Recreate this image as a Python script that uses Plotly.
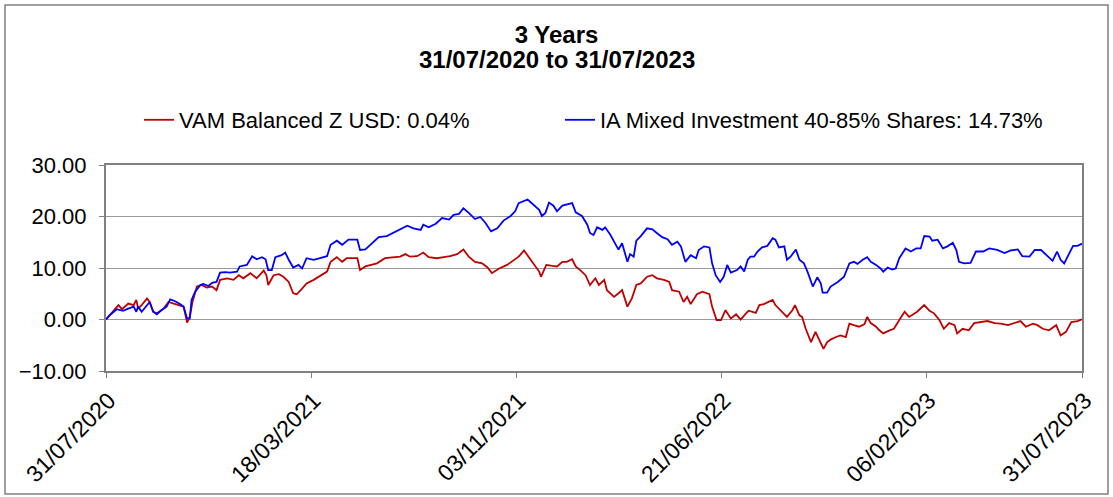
import pandas as pd
import plotly.graph_objects as go

start_date = "2020-07-31"
end_date = "2023-07-31"

title_lines = ["3 Years", "31/07/2020 to 31/07/2023"]
series_names = ["VAM Balanced Z USD: 0.04%", "IA Mixed Investment 40-85% Shares: 14.73%"]

# days since 31/07/2020 and cumulative % growth
red_days = [0, 4, 10, 14, 18, 25, 31, 34, 36, 40, 46, 49, 53, 57, 64, 70, 76, 83, 87, 91, 94, 97, 102, 107, 113, 119, 124, 128, 136, 143, 149, 154, 162, 169, 177, 180, 182,
            188, 194, 199, 205, 210, 214, 220, 225, 233, 240, 248, 252, 259, 265, 270, 282, 285, 291, 297, 304, 313, 323, 330, 336, 341, 349, 356, 362,
            371, 379, 386, 394, 401, 407, 414, 422, 428, 433, 441, 450, 458, 463, 469, 474, 480, 486, 488, 494, 501, 506, 512, 517, 523, 527, 532, 538, 543,
            549, 553, 559, 562, 570, 575, 579, 585, 590, 595, 600, 607, 613, 618, 626, 632, 635, 643, 648, 652, 656, 663, 669, 677, 680, 685, 690, 695, 701, 707, 712, 718, 721,
            729, 733, 738, 744, 748, 751, 757, 764, 770, 773, 778, 781, 785, 791, 796, 800, 805, 809, 813, 819, 824, 830, 834, 839, 845, 851, 854, 858, 864, 867, 872, 879, 884, 890, 896, 901,
            910, 918, 924, 929, 935, 940, 946, 952, 955, 961, 968, 974, 982, 989, 997, 1004, 1012, 1019, 1026, 1032, 1040, 1045, 1051, 1058, 1066, 1071, 1077, 1083, 1090, 1095]
red_vals = [0, 0.8, 1.8, 2.8, 2.0, 3.1, 2.8, 3.8, 2.1, 2.8, 4.1, 3.4, 1.5, 1.2, 2.0, 3.4, 3.1, 2.8, 2.5, -0.6, 0.5, 3.4, 6.4, 6.7, 6.2, 6.4, 5.7, 7.7, 8.0, 7.7, 8.6, 8.0, 9.0, 8.0, 9.5, 8.6, 6.7,
            8.6, 8.8, 8.3, 7.3, 5.1, 4.9, 6.0, 7.0, 7.7, 8.4, 9.3, 11.2, 12.1, 11.2, 11.9, 11.9, 9.6, 10.3, 10.6, 10.9, 11.9, 12.1, 12.2, 12.7, 12.2, 12.3, 13.0, 12.1,
            11.9, 12.1, 12.3, 12.7, 13.6, 12.2, 11.2, 10.9, 10.1, 9.0, 9.9, 10.6, 11.6, 12.2, 13.4, 12.2, 10.9, 9.3, 8.3, 10.6, 10.4, 10.3, 11.2, 11.2, 11.7, 10.3, 9.6, 8.6, 6.7,
            8.0, 6.7, 7.7, 5.7, 4.4, 5.1, 5.7, 2.5, 4.1, 6.7, 7.0, 8.3, 8.6, 8.0, 7.7, 7.3, 5.7, 5.4, 3.4, 4.4, 3.0, 4.9, 5.4, 4.9, 2.5, -0.1, -0.1, 1.8, 0.2, 1.0, 0.0, 1.2, 1.7,
            1.3, 2.8, 3.0, 3.4, 3.8, 2.8, 1.8, 0.5, 1.8, 2.8, 0.8, 0.5, -1.8, -4.4, -2.4, -4.0, -5.7, -4.4, -3.9, -3.4, -3.1, -3.4, -0.8, -1.1, -1.4, -0.9, 0.5, -0.7, -1.4, -2.0, -2.7, -2.1, -1.8, -0.1, 1.5, 0.5,
            1.5, 2.8, 1.7, 1.2, -0.1, -1.8, -0.7, -1.1, -2.7, -1.8, -2.1, -0.7, -0.5, -0.3, -0.7, -0.8, -1.1, -0.7, -0.3, -1.4, -0.8, -1.1, -1.8, -2.1, -1.1, -3.1, -2.4, -0.5, -0.3, 0.04]

blue_days = [0, 4, 12, 19, 25, 31, 34, 36, 40, 46, 49, 53, 57, 62, 68, 72, 77, 83, 87, 91, 94, 96, 100, 106, 109, 115, 119, 124, 128, 134, 139, 147, 150, 158, 164, 169, 175, 179, 182,
             186, 190, 197, 201, 205, 210, 216, 220, 225, 233, 240, 248, 252, 259, 265, 272, 282, 285, 291, 297, 306, 315, 323, 330, 338, 345, 353, 356, 362,
             370, 377, 385, 390, 396, 401, 407, 414, 420, 426, 432, 439, 446, 454, 459, 463, 473, 480, 486, 489, 493, 497, 502, 506, 512, 523, 527, 534, 540, 543,
             547, 551, 557, 560, 566, 572, 575, 579, 585, 588, 592, 595, 600, 607, 613, 618, 624, 630, 635, 641, 645, 650, 656, 662, 665, 671, 677, 680, 684, 689, 693, 697, 701, 708, 712, 716, 720, 723,
             727, 731, 736, 742, 748, 751, 755, 761, 764, 768, 774, 778, 783, 787, 793, 798, 802, 804, 809, 813, 821, 828, 834, 839, 843, 849, 854, 858, 864, 869, 872, 877, 882, 886, 890, 897, 903,
             909, 914, 918, 924, 927, 933, 939, 944, 950, 954, 957, 963, 970, 976, 984, 991, 1000, 1008, 1015, 1023, 1028, 1036, 1042, 1049, 1057, 1062, 1067, 1071, 1075, 1079, 1085, 1090, 1095]
blue_vals = [0, 0.8, 2.0, 1.7, 2.1, 2.5, 1.5, 2.5, 1.5, 2.8, 3.4, 1.5, 1.0, 1.8, 2.5, 3.9, 3.6, 3.0, 2.5, 0.2, 0.2, 3.8, 5.4, 6.7, 6.9, 6.5, 7.1, 7.3, 9.1, 9.2, 9.1, 9.3, 10.3, 10.6, 12.3, 11.7, 12.1, 11.7, 9.6,
             9.6, 12.1, 12.5, 13.0, 11.6, 10.1, 10.6, 9.9, 11.9, 11.6, 11.9, 12.3, 14.5, 15.3, 14.5, 15.5, 15.5, 13.5, 13.6, 14.5, 16.0, 16.2, 16.9, 17.4, 18.2, 17.7, 17.4, 18.4, 17.9,
             18.6, 19.7, 19.4, 20.3, 20.5, 21.6, 20.7, 19.5, 19.9, 18.7, 17.1, 17.7, 19.2, 20.1, 21.0, 22.6, 23.3, 22.3, 21.3, 20.1, 20.7, 22.7, 22.1, 21.0, 22.1, 22.6, 20.8, 20.1, 18.4, 16.8,
             16.4, 17.9, 17.4, 17.9, 16.4, 14.5, 13.6, 14.8, 11.2, 12.7, 12.2, 15.3, 16.2, 17.7, 17.5, 16.8, 16.0, 15.6, 14.5, 15.1, 14.2, 11.2, 12.5, 11.9, 13.5, 14.2, 14.0, 10.9, 8.6, 7.3, 8.3, 10.6, 9.1, 9.6, 10.3, 9.3, 11.6, 12.2,
             12.2, 13.2, 14.0, 14.3, 15.8, 15.5, 14.0, 14.2, 11.6, 12.2, 13.6, 11.6, 10.9, 9.3, 6.4, 8.2, 7.0, 5.2, 5.2, 6.4, 7.3, 8.3, 10.9, 11.2, 10.8, 11.6, 12.1, 11.2, 10.6, 9.9, 9.3, 10.1, 9.7, 9.9, 11.9, 13.8, 13.2,
             13.8, 13.8, 16.2, 16.1, 15.3, 15.5, 13.8, 14.2, 14.9, 13.5, 11.2, 10.9, 11.0, 13.2, 13.2, 13.8, 13.5, 12.9, 13.4, 13.6, 12.3, 12.2, 13.5, 13.5, 12.2, 11.4, 13.2, 11.6, 10.9, 12.3, 14.3, 14.3, 14.73]

tick_dates = ["2020-07-31", "2021-03-18", "2021-11-03", "2022-06-21", "2023-02-06", "2023-07-31"]
tick_labels = ["31/07/2020", "18/03/2021", "03/11/2021", "21/06/2022", "06/02/2023", "31/07/2023"]

t0 = pd.Timestamp(start_date)
red_x = t0 + pd.to_timedelta(red_days, unit="D")
blue_x = t0 + pd.to_timedelta(blue_days, unit="D")

W, H = 1113, 497
L, R, T, B = 106, 31, 165, 126
pw, ph = W - L - R, H - T - B

fig = go.Figure()
fig.add_trace(go.Scatter(x=red_x, y=red_vals, mode="lines", name=series_names[0],
                         line=dict(color="#C00000", width=1.8), legend="legend"))
fig.add_trace(go.Scatter(x=blue_x, y=blue_vals, mode="lines", name=series_names[1],
                         line=dict(color="#0000FF", width=1.8), legend="legend2"))

font_family = "Liberation Sans, Arial, sans-serif"
legend_font = dict(size=22, family=font_family, color="black")
legend_y = (H - B - 120) / ph
title_font = dict(size=24, family=font_family, color="black")

fig.update_layout(
    width=W, height=H,
    margin=dict(l=L, r=R, t=T, b=B, autoexpand=False),
    paper_bgcolor="white", plot_bgcolor="white",
    font=dict(family=font_family, color="black"),
    title=dict(text="<b>" + title_lines[0] + "</b>",
               x=0.5, xref="container", xanchor="center",
               y=1 - 35 / H, yref="container", yanchor="middle",
               font=title_font),
    legend=dict(orientation="h", x=(139 - L) / pw, xanchor="left",
                y=legend_y, yanchor="middle", font=legend_font,
                bgcolor="rgba(0,0,0,0)"),
    legend2=dict(orientation="h", x=(560 - L) / pw, xanchor="left",
                 y=legend_y, yanchor="middle", font=legend_font,
                 bgcolor="rgba(0,0,0,0)"),
    showlegend=True,
)

# second title line
fig.add_annotation(text="<b>" + title_lines[1] + "</b>", xref="paper", yref="paper",
                   x=(W / 2 - L) / pw, y=(H - B - 59) / ph, xanchor="center", yanchor="middle",
                   showarrow=False, font=title_font)

fig.update_xaxes(type="date", range=[start_date, end_date], automargin=False,
                 tickmode="array", tickvals=tick_dates, ticktext=tick_labels,
                 tickangle=-45, tickfont=dict(size=23, family=font_family, color="black"),
                 ticklabelshift=3,
                 showgrid=False, zeroline=False,
                 showline=True, linecolor="#808080", linewidth=2, mirror=True,
                 ticks="outside", ticklen=5, tickcolor="#808080")
fig.update_yaxes(range=[-10, 30], dtick=10, tick0=-10, tickformat=".2f", automargin=False,
                 tickfont=dict(size=22, family=font_family, color="black"),
                 showgrid=True, gridcolor="#9a9a9a", gridwidth=1, zeroline=False,
                 showline=True, linecolor="#808080", linewidth=2, mirror=True,
                 ticks="outside", ticklen=5, tickcolor="#808080", ticklabelstandoff=8)

# outer chart border
fig.add_shape(type="rect", xref="paper", yref="paper",
              x0=(5 - L) / pw, x1=(1108 - L) / pw,
              y0=(H - B - 494) / ph, y1=(H - B - 5) / ph,
              line=dict(color="#808080", width=1.5), fillcolor="rgba(0,0,0,0)", layer="below")

fig.write_html("out.html", config={"displayModeBar": False},
               post_script="document.body.style.margin='0px';")
